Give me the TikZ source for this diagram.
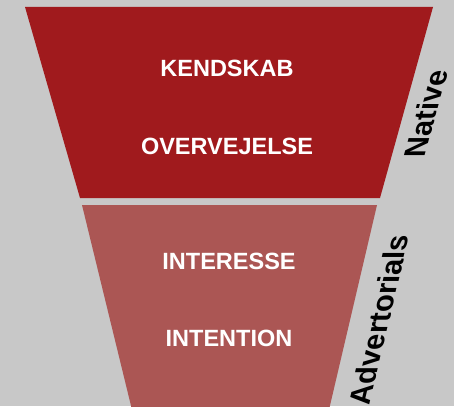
\documentclass[tikz,border=0pt]{standalone}
\usepackage{fontspec}
\setmainfont{Liberation Sans}

\definecolor{bggrey}{RGB}{200,200,200}
\definecolor{topred}{RGB}{160,26,29}
\definecolor{lowred}{RGB}{171,86,84}

\tikzset{
  stage/.style={text=white,font=\fontsize{23.5}{28}\selectfont\bfseries},
  side/.style={text=black,inner sep=0pt,font=\fontsize{30}{36}\selectfont\bfseries}
}

\begin{document}
\begin{tikzpicture}[x=1pt,y=-1pt]
      \fill[bggrey] (0,0) rectangle (454,406);
      \useasboundingbox (0,0) rectangle (454,406);
      \clip (0,0) rectangle (454,406);
      % funnel
      \fill[topred]
        (25, 7) --
        (433, 7) --
        (380, 198) --
        (80, 198) -- cycle;
      \fill[lowred]
        (82, 205) --
        (377, 205) --
        (328, 414) --
        (133, 414) -- cycle;
      % stages
      \node[stage] (kendskab) at (227,68) {KENDSKAB};
      \node[stage] (overvejelse) at (227,146) {OVERVEJELSE};
      \node[stage] (interesse) at (229,261) {INTERESSE};
      \node[stage] (intention) at (229,338) {INTENTION};
      % channels, set upright and slanted along the funnel edge
      \node[side,cm={0.267,0.964,-1,0,(0,0)}] (native) at (426,114) {Native};
      \node[side,cm={0.228,0.974,-1,0,(0,0)}] (advertorials) at (379,320) {Advertorials};
    \end{tikzpicture}
\end{document}
